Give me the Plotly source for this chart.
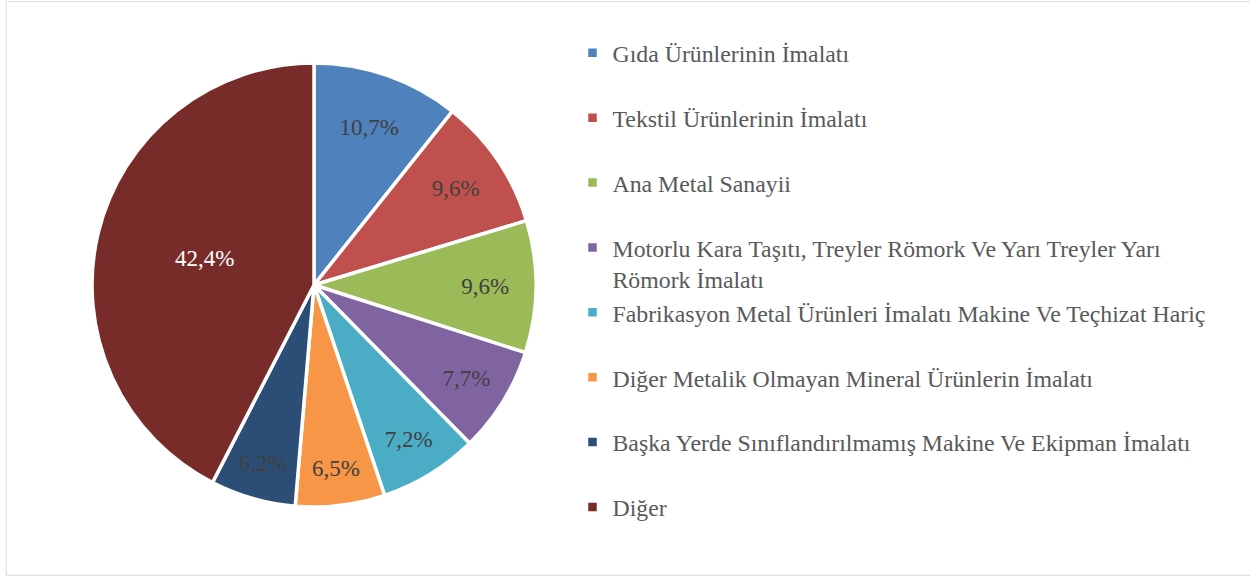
import plotly.graph_objects as go

# sectors, share in %
sectors = [
    "Gıda Ürünlerinin İmalatı",
    "Tekstil Ürünlerinin İmalatı",
    "Ana Metal Sanayii",
    "Motorlu Kara Taşıtı, Treyler Römork Ve Yarı Treyler Yarı<br>Römork İmalatı",
    "Fabrikasyon Metal Ürünleri İmalatı Makine Ve Teçhizat Hariç",
    "Diğer Metalik Olmayan Mineral Ürünlerin İmalatı",
    "Başka Yerde Sınıflandırılmamış Makine Ve Ekipman İmalatı",
    "Diğer",
]
shares = [10.7, 9.6, 9.6, 7.7, 7.2, 6.5, 6.2, 42.4]
colors = ["#4F81BD", "#C0504D", "#9BBB59", "#8064A2", "#4BACC6", "#F79646", "#2C4D75", "#772C2A"]
label_colors = ["#404040"] * 7 + ["#FFFFFF"]

SERIF = "Liberation Serif, Times New Roman, serif"

# blank second line so every legend entry takes the same height as in excel
legend_names = [s if "<br>" in s else s + "<br> " for s in sectors]

pct_text = [("%.1f" % v).replace(".", ",") + "%" for v in shares]

fig = go.Figure()
fig.add_trace(go.Pie(
    labels=legend_names,
    values=shares,
    text=pct_text,
    textinfo="text",
    textposition="inside",
    insidetextorientation="horizontal",
    sort=False,
    direction="clockwise",
    rotation=0,
    marker=dict(colors=colors, line=dict(color="white", width=3.5)),
    textfont=dict(family=SERIF, size=23, color=label_colors),
    domain=dict(x=[0.0736, 0.4288], y=[0.1196, 0.8925]),
    hoverinfo="skip",
))

# thin frame round the chart area
fig.add_shape(type="rect", xref="paper", yref="paper", x0=0.005, x1=1.01, y0=0.003, y1=0.997,
              line=dict(color="#D9D9D9", width=1))

fig.update_layout(
    width=1250, height=577,
    margin=dict(l=0, r=0, t=0, b=0),
    paper_bgcolor="white",
    plot_bgcolor="white",
    font=dict(family=SERIF),
    uniformtext=dict(minsize=10, mode="show"),
    legend=dict(
        x=0.458, y=0.9465, xanchor="left", yanchor="top",
        font=dict(family=SERIF, size=23.8, color="#595959"),
        valign="top",
        itemwidth=30,
        traceorder="normal",
    ),
)

fig.write_html("out.html", config={"displayModeBar": False},
               post_script="document.body.style.margin='0px';")
